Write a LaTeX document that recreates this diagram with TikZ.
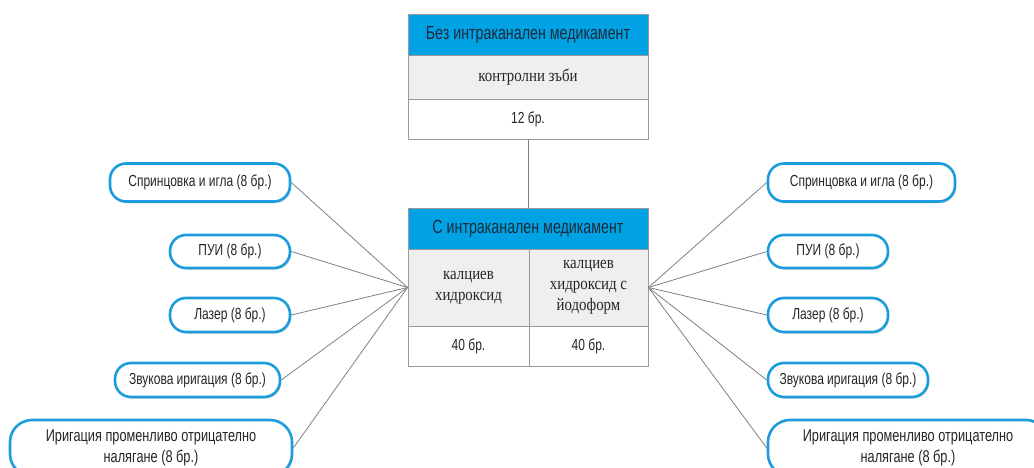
\documentclass[tikz,border=0pt]{standalone}
\usepackage{fontspec}
\setmainfont{Liberation Sans}[FakeStretch=0.75]
\newfontfamily\tabserif{Liberation Serif}[FakeStretch=0.85]
\usepackage{tikz}
\usetikzlibrary{positioning,calc,shadows}

\definecolor{headblue}{HTML}{00A2E3}
\definecolor{pillblue}{HTML}{1C9CDC}
\definecolor{rowgray}{HTML}{EFEFEF}
\definecolor{gridgray}{HTML}{9A9A9A}
\definecolor{inkdark}{HTML}{1E2A3A}

\tikzset{
  headcell/.style={rectangle, fill=headblue, draw=gridgray, line width=0.9pt, text=inkdark, font=\fontsize{19}{21}\selectfont, inner sep=0pt},
  bodycell/.style={rectangle, fill=rowgray, draw=gridgray, line width=0.9pt, text=black!85, font=\tabserif\fontsize{17.5}{21}\selectfont, align=center, inner sep=0pt},
  countcell/.style={rectangle, fill=white, draw=gridgray, line width=0.9pt, text=black!85, font=\fontsize{16}{18}\selectfont, inner sep=0pt},
  pill/.style={rectangle, rounded corners=16pt, draw=pillblue, line width=2.6pt, fill=white, text=black!85, font=\fontsize{16}{21}\selectfont, align=center, inner sep=0pt, drop shadow={shadow xshift=1.2pt, shadow yshift=-1.8pt, fill=black!30}},
  widepill/.style={pill, rounded corners=22pt, font=\fontsize{17}{21.5}\selectfont},
  link/.style={draw=gray, line width=0.8pt},
}

\begin{document}
\begin{tikzpicture}[x=1pt, y=-1pt]
		\useasboundingbox (0,0) rectangle (1034,468);
		% control group table
		\node[headcell, minimum width=240pt, minimum height=41pt] (ctrlhead) at (528,34.5) {Без интраканален медикамент};
		\node[bodycell, minimum width=240pt, minimum height=44pt] (ctrlbody) at (528,77) {контролни зъби};
		\node[countcell, minimum width=240pt, minimum height=40pt] (ctrlcount) at (528,119) {12 бр.};
		
		% medicated group table
		\node[headcell, minimum width=240pt, minimum height=41pt] (medhead) at (528,228.5) {С интраканален медикамент};
		\node[bodycell, minimum width=121pt, minimum height=77pt] (medbodyA) at (468.5,287.5) {калциев\\хидроксид};
		\node[bodycell, minimum width=119pt, minimum height=77pt] (medbodyB) at (588.5,287.5) {калциев\\хидроксид с\\йодоформ};
		\node[countcell, minimum width=121pt, minimum height=40pt] (medcountA) at (468.5,346) {40 бр.};
		\node[countcell, minimum width=119pt, minimum height=40pt] (medcountB) at (588.5,346) {40 бр.};
		\coordinate (hubL) at (medbodyA.west);
		\coordinate (hubR) at (medbodyB.east);
		
		% irrigation methods, left
		\node[pill, minimum width=180pt, minimum height=38pt] (L1) at (200,182.5) {Спринцовка и игла (8 бр.)};
		\node[pill, minimum width=120pt, minimum height=33pt] (L2) at (230,251.5) {ПУИ (8 бр.)};
		\node[pill, minimum width=120pt, minimum height=34pt] (L3) at (230,315) {Лазер (8 бр.)};
		\node[pill, minimum width=165pt, minimum height=34pt] (L4) at (197.5,380) {Звукова иригация (8 бр.)};
		\node[widepill, minimum width=282pt, minimum height=56pt] (L5) at (151,448) {Иригация променливо отрицателно\\налягане (8 бр.)};
		
		% irrigation methods, right
		\node[pill, minimum width=187pt, minimum height=38pt] (R1) at (861.5,182.5) {Спринцовка и игла (8 бр.)};
		\node[pill, minimum width=120pt, minimum height=33pt] (R2) at (828,251.5) {ПУИ (8 бр.)};
		\node[pill, minimum width=120pt, minimum height=34pt] (R3) at (828,315) {Лазер (8 бр.)};
		\node[pill, minimum width=160pt, minimum height=34pt] (R4) at (848,380) {Звукова иригация (8 бр.)};
		\node[widepill, minimum width=280pt, minimum height=56pt] (R5) at (908,448) {Иригация променливо отрицателно\\налягане (8 бр.)};
		
		\draw[link] (ctrlcount.south) -- (medhead.north);
		\foreach \p in {L1,L2,L3,L4,L5}
			\draw[link] (\p.east) -- (hubL);
		\foreach \p in {R1,R2,R3,R4,R5}
			\draw[link] (hubR) -- (\p.west);
	\end{tikzpicture}
\end{document}
